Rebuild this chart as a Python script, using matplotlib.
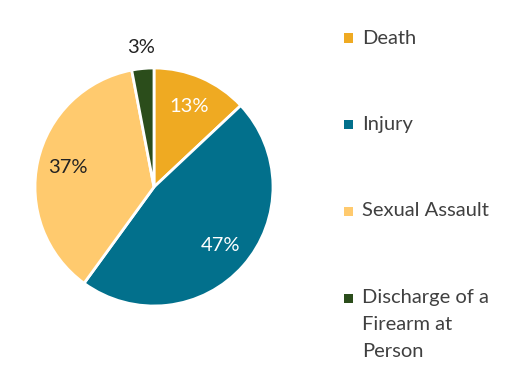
import matplotlib
matplotlib.use("Agg")
import matplotlib.pyplot as plt
from matplotlib.patches import Rectangle
import numpy as np

plt.rcParams['font.family'] = ['Lato', 'DejaVu Sans']

categories = ["Death", "Injury", "Sexual Assault", "Discharge of a\nFirearm at\nPerson"]
values = [13, 47, 37, 3]
colors = ["#EFAA22", "#02708C", "#FFCA6E", "#2B4D1B"]
label_colors = ["white", "white", "#222222", "#222222"]

fig = plt.figure(figsize=(5.11, 3.75), dpi=100)
ax = fig.add_axes([(154 - 119) / 511, 1 - (187 + 119) / 375, 238 / 511, 238 / 375])
wedges, _ = ax.pie(values, colors=colors, startangle=90, counterclock=False,
                   wedgeprops=dict(edgecolor="white", linewidth=2))
ax.set_aspect("equal")
ax.set_xlim(-1.0, 1.0)
ax.set_ylim(-1.0, 1.0)
ax.axis("off")

total = sum(values)
for w, v, lc in zip(wedges, values, label_colors):
    ang = np.deg2rad((w.theta1 + w.theta2) / 2)
    d = 0.74 if v >= 5 else 1.18
    ax.text(d * np.cos(ang), d * np.sin(ang), f"{round(100 * v / total)}%",
            ha="center", va="center", color=lc, fontsize=14.5, clip_on=False)

# legend
ys = [38, 125, 211, 298]
for cat, col, y in zip(categories, colors, ys):
    fig.patches.append(Rectangle(((348 - 4.5) / 511, 1 - (y + 4.5) / 375), 9 / 511, 9 / 375,
                                 transform=fig.transFigure, facecolor=col, edgecolor="none"))
    if "\n" in cat:
        fig.text(362 / 511, 1 - (y - 9) / 375, cat, ha="left", va="top",
                 fontsize=14.5, color="#404040", linespacing=1.72)
    else:
        fig.text(362 / 511, 1 - y / 375, cat, ha="left", va="center",
                 fontsize=14.5, color="#404040")

fig.savefig("out.png", dpi=100)
